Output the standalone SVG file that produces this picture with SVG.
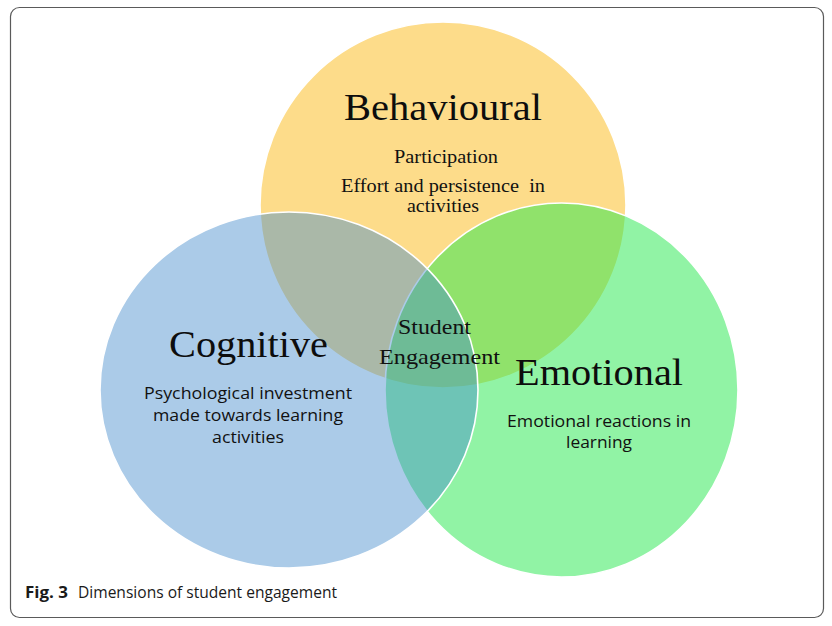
<svg xmlns="http://www.w3.org/2000/svg" width="832" height="626" viewBox="0 0 832 626">
  <style>
    .circ { stroke: #ffffff; stroke-width: 1.6; }
    .title { font-family: "Liberation Serif", "Times New Roman", serif; fill: #0d0d0d; text-anchor: middle; }
    .serif { font-family: "Liberation Serif", "Times New Roman", serif; fill: #111; text-anchor: middle; }
    .sans { font-family: "Open Sans", "Noto Sans", "Liberation Sans", sans-serif; fill: #111; text-anchor: middle; }
    .cap { font-family: "Open Sans", "Noto Sans", "Liberation Sans", sans-serif; fill: #1a1a1a; }
  </style>
  <rect x="0" y="0" width="832" height="626" fill="#ffffff"/>
  <rect x="10.5" y="7.5" width="813" height="610" rx="9" ry="9" fill="#ffffff" stroke="#5a5a5a" stroke-width="1.2"/>

  <g id="behavioural">
    <ellipse class="circ" cx="443" cy="205" rx="183" ry="183" fill="#fddc8a"/>
  </g>
  <g id="emotional-circle">
    <ellipse class="circ" cx="561.5" cy="390" rx="176.5" ry="187" fill="#23e74b" fill-opacity="0.5"/>
  </g>
  <g id="cognitive-circle">
    <ellipse class="circ" cx="289" cy="390" rx="189" ry="178" fill="#458ccc" fill-opacity="0.45"/>
  </g>

  <g id="behavioural-text">
    <text class="title" x="443" y="120" font-size="38" textLength="198" lengthAdjust="spacingAndGlyphs">Behavioural</text>
    <text class="serif" x="446" y="163" font-size="18.5" textLength="104" lengthAdjust="spacingAndGlyphs">Participation</text>
    <text class="serif" x="443" y="192" font-size="18.5" textLength="204" lengthAdjust="spacingAndGlyphs" xml:space="preserve">Effort and persistence  in</text>
    <text class="serif" x="443" y="212" font-size="18.5" textLength="72" lengthAdjust="spacingAndGlyphs">activities</text>
  </g>

  <g id="cognitive">
    <text class="title" x="248.5" y="357" font-size="38" textLength="159" lengthAdjust="spacingAndGlyphs">Cognitive</text>
    <text class="sans" x="248" y="399" font-size="17" textLength="208" lengthAdjust="spacingAndGlyphs">Psychological investment</text>
    <text class="sans" x="248" y="421" font-size="17" textLength="190" lengthAdjust="spacingAndGlyphs">made towards learning</text>
    <text class="sans" x="248" y="443" font-size="17" textLength="72" lengthAdjust="spacingAndGlyphs">activities</text>
  </g>

  <g id="emotional">
    <text class="title" x="599" y="385" font-size="38" textLength="168" lengthAdjust="spacingAndGlyphs">Emotional</text>
    <text class="sans" x="599" y="427" font-size="17" textLength="184" lengthAdjust="spacingAndGlyphs">Emotional reactions in</text>
    <text class="sans" x="599" y="448" font-size="17" textLength="66" lengthAdjust="spacingAndGlyphs">learning</text>
  </g>

  <g id="student-engagement">
    <text class="serif" x="434.5" y="334" font-size="21.5" textLength="73" lengthAdjust="spacingAndGlyphs">Student</text>
    <text class="serif" x="439.5" y="364" font-size="21.5" textLength="121" lengthAdjust="spacingAndGlyphs">Engagement</text>
  </g>

  <g id="connectors"></g>

  <g id="caption">
    <text class="cap" x="25" y="598" font-size="16" font-weight="bold" textLength="43" lengthAdjust="spacingAndGlyphs">Fig. 3</text>
    <text class="cap" x="78" y="598" font-size="16" textLength="259" lengthAdjust="spacingAndGlyphs">Dimensions of student engagement</text>
  </g>
</svg>
